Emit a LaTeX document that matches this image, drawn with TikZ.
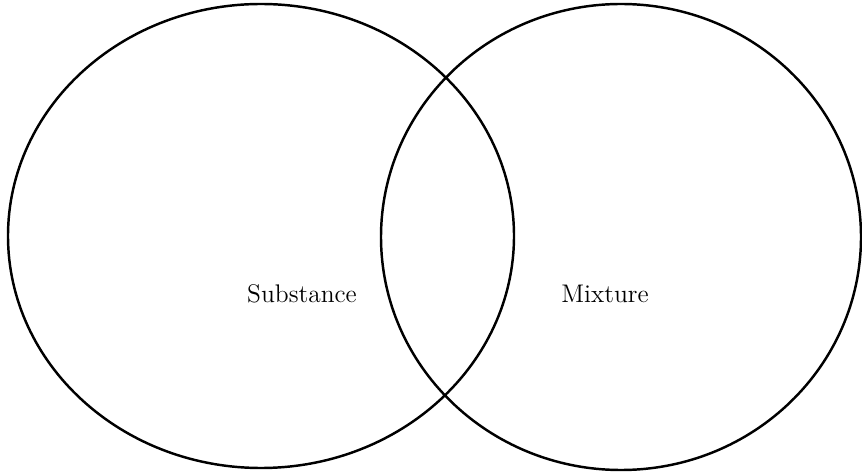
\documentclass[tikz,border=0pt]{standalone}
\tikzset{
  setline/.style={line width=1.4pt},
  setlabel/.style={font=\fontsize{14.5}{17}\selectfont}
}
\begin{document}
\begin{tikzpicture}[x=0.02cm, y=-0.02cm]
    \useasboundingbox (0, 0) rectangle (862, 472);
    \draw[setline] (261, 236) ellipse [x radius=253, y radius=232]
                   (621, 237) ellipse [x radius=240, y radius=233];
    \draw (302, 294) node (sb) [setlabel] {Substance}
          (605, 294) node (mx) [setlabel] {Mixture};
\end{tikzpicture}
\end{document}
